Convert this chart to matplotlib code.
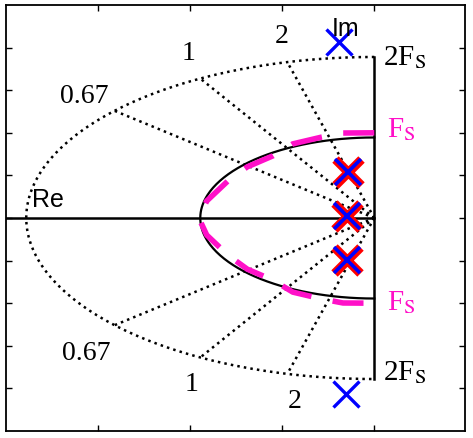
import numpy as np
import matplotlib
matplotlib.use('Agg')
import matplotlib.pyplot as plt

plt.rcParams['mathtext.fontset'] = 'stix'

# radii of the Fs and 2Fs contours (axis units)
r_fs = 1.89
r_2fs = 3.78

# constant-Q lines drawn to the 2Fs contour
q_values = [0.67, 1, 2]
q_labels = ['0.67', '1', '2']

# magenta (dashed) Fs contour, upper half
mag_re = [0.0, -0.34, -0.57, -0.885, -1.10, -1.38, -1.59, -1.82, -1.906]
mag_im = [2.0, 1.995, 1.90, 1.74, 1.46, 1.20, 0.87, 0.40, 0.0]

# poles
blue_re = [-0.38, -0.31]
blue_im = [4.14, -4.13]
red_re = [-0.29, -0.30, -0.30]
red_im = [1.07, 0.05, -0.98]

W, H = 473, 439
fig = plt.figure(figsize=(W / 100, H / 100), dpi=100)
ax = fig.add_axes([6 / W, 1 - 432 / H, 459 / W, 426 / H])
ax.set_xlim(-4, 0.985)
ax.set_ylim(-5, 5)
ax.set_xticks([-3, -2, -1, 0])
ax.set_yticks([-4, -3, -2, -1, 0, 1, 2, 3, 4])
ax.tick_params(direction='in', length=4, width=1, top=True, right=True,
               labelbottom=False, labelleft=False)
for s in ax.spines.values():
    s.set_linewidth(1.3)

# dotted 2Fs contour
th = np.linspace(np.pi / 2, 3 * np.pi / 2, 300)
ax.plot(r_2fs * np.cos(th), r_2fs * np.sin(th), color='k', ls=':', lw=1.8)

# constant Q lines
for q in q_values:
    psi = np.arccos(1 / (2 * q))
    for sg in [1, -1]:
        ax.plot([0, -r_2fs * np.cos(psi)], [0, sg * r_2fs * np.sin(psi)],
                color='k', ls=':', lw=1.8)

# axes lines
ax.plot([-4, 0], [0, 0], color='k', lw=1.8)
ax.plot([0, 0], [-r_2fs, r_2fs], color='k', lw=1.8)

# black Fs contour
th = np.linspace(np.pi / 2, 3 * np.pi / 2, 200)
ax.plot(r_fs * np.cos(th), r_fs * np.sin(th), color='k', lw=1.6)

# magenta dashed contour (upper half + mirrored lower half)
mx = mag_re + mag_re[::-1][1:]
my = mag_im + [-v for v in mag_im[::-1][1:]]
ax.plot(mx, my, color='#ff10c8', lw=4, dashes=(5.6, 3.9))

# poles
ax.plot(red_re, red_im, ls='none', marker='x', ms=19, mew=6.5, color='red')
ax.plot(red_re, red_im, ls='none', marker='x', ms=19, mew=2.6, color='blue')
ax.plot(blue_re, blue_im, ls='none', marker='x', ms=19, mew=2.4, color='blue')

# labels
serif = 'Liberation Serif'
sans = 'Liberation Sans'
ax.text(-3.72, 0.28, 'Re', fontsize=18, family=sans)
ax.text(-0.465, 4.30, 'Im', fontsize=18, family=sans)
ax.text(-3.15, 2.72, '0.67', fontsize=20, family=serif, ha='center')
ax.text(-2.02, 3.73, '1', fontsize=20, family=serif, ha='center')
ax.text(-1.01, 4.12, '2', fontsize=20, family=serif, ha='center')
ax.text(-3.13, -3.31, '0.67', fontsize=20, family=serif, ha='center')
ax.text(-1.98, -4.03, '1', fontsize=20, family=serif, ha='center')
ax.text(-0.87, -4.44, '2', fontsize=20, family=serif, ha='center')
ax.text(0.09, 3.615, r'2F$_\mathrm{S}$', fontsize=21, family=serif)
ax.text(0.09, -3.78, r'2F$_\mathrm{S}$', fontsize=21, family=serif)
ax.text(0.135, 1.92, r'F$_\mathrm{S}$', fontsize=21, family=serif, color='#ff10c8')
ax.text(0.135, -2.15, r'F$_\mathrm{S}$', fontsize=21, family=serif, color='#ff10c8')

fig.savefig('out.png', dpi=100)
